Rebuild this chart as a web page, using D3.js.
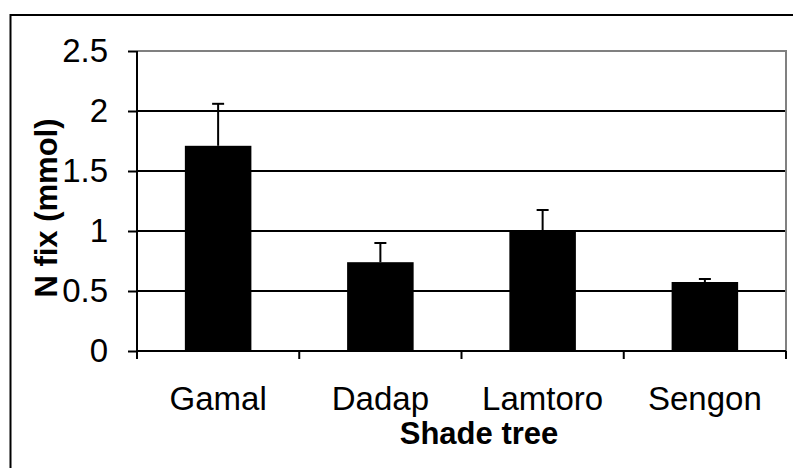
<!DOCTYPE html>
<html>
<head>
<meta charset="utf-8">
<script src="https://cdn.jsdelivr.net/npm/d3@7"></script>
<style>
  body { margin: 0; background: #fff; }
  text { font-family: Arial, "Liberation Sans", sans-serif; }
</style>
</head>
<body>
<script>
// data
var categories = ["Gamal", "Dadap", "Lamtoro", "Sengon"];
var values = [1.71, 0.74, 1.0, 0.575];
var errors = [0.35, 0.16, 0.175, 0.025];
var yTicks = [0, 0.5, 1, 1.5, 2, 2.5];

// set up svg
var w = 793;
var h = 468;
var plot = { left: 137, right: 786, top: 51, bottom: 351 };

var svg = d3.select("body")
            .append("svg")
            .attr("width", w)
            .attr("height", h);

svg.append("rect")
    .attr("x", 0).attr("y", 0)
    .attr("width", w).attr("height", h)
    .attr("fill", "#fff");

// outer chart border (runs off right and bottom)
svg.append("rect")
    .attr("x", 10.5).attr("y", 15)
    .attr("width", 820).attr("height", 500)
    .attr("fill", "none")
    .attr("stroke", "#000")
    .attr("stroke-width", 2);

var xScale = d3.scaleBand()
    .domain(categories)
    .range([plot.left, plot.right])
    .paddingInner(0.59)
    .paddingOuter(0.295);

var yScale = d3.scaleLinear()
    .domain([0, 2.5])
    .range([plot.bottom, plot.top]);

// gridlines
svg.append("g")
    .selectAll("line")
    .data(yTicks.filter((d) => d > 0 && d < 2.5))
    .enter()
    .append("line")
    .attr("x1", plot.left)
    .attr("x2", plot.right)
    .attr("y1", (d) => yScale(d))
    .attr("y2", (d) => yScale(d))
    .attr("stroke", "#000")
    .attr("stroke-width", 2);

// plot area border top and right (gray)
svg.append("path")
    .attr("d", "M" + plot.left + "," + yScale(2.5) + "H" + plot.right + "V" + plot.bottom)
    .attr("fill", "none")
    .attr("stroke", "#808080")
    .attr("stroke-width", 2);

// bars
var data = categories.map((c, i) => ({ name: c, value: values[i], err: errors[i] }));

svg.append("g")
    .selectAll("rect")
    .data(data)
    .enter()
    .append("rect")
    .attr("x", (d) => xScale(d.name))
    .attr("y", (d) => yScale(d.value))
    .attr("width", xScale.bandwidth())
    .attr("height", (d) => yScale(0) - yScale(d.value))
    .attr("fill", "#000");

// error bars
var eb = svg.append("g").attr("stroke", "#000").attr("stroke-width", 2);
data.forEach(function(d) {
    var cx = xScale(d.name) + xScale.bandwidth() / 2;
    eb.append("line")
        .attr("x1", cx).attr("x2", cx)
        .attr("y1", yScale(d.value)).attr("y2", yScale(d.value + d.err));
    eb.append("line")
        .attr("x1", cx - 6).attr("x2", cx + 6)
        .attr("y1", yScale(d.value + d.err)).attr("y2", yScale(d.value + d.err));
});

// y axis
var yAxis = d3.axisLeft(yScale)
    .tickValues(yTicks)
    .tickFormat(d3.format("~g"))
    .tickSize(9)
    .tickPadding(20);

var gy = svg.append("g")
    .attr("transform", "translate(" + plot.left + ",0)")
    .call(yAxis);
gy.select(".domain").attr("stroke-width", 2).attr("d", "M0," + plot.top + "V" + (plot.bottom + 8));
gy.selectAll(".tick line").attr("stroke-width", 2);
gy.selectAll(".tick text")
    .attr("font-size", 33)
    .attr("font-family", "Arial, 'Liberation Sans', sans-serif")
    .attr("fill", "#000");

// x axis: ticks at category boundaries
var bounds = categories.map((c) => xScale(c) - xScale.step() * xScale.paddingInner() / 2);
bounds.push(plot.right);

svg.append("line")
    .attr("x1", plot.left).attr("x2", plot.right)
    .attr("y1", plot.bottom).attr("y2", plot.bottom)
    .attr("stroke", "#000").attr("stroke-width", 2);

svg.append("g")
    .selectAll("line")
    .data(bounds)
    .enter()
    .append("line")
    .attr("x1", (d) => d).attr("x2", (d) => d)
    .attr("y1", plot.bottom).attr("y2", plot.bottom + 8)
    .attr("stroke", "#000").attr("stroke-width", 2);

svg.append("g")
    .selectAll("text")
    .data(categories)
    .enter()
    .append("text")
    .attr("x", (d) => xScale(d) + xScale.bandwidth() / 2)
    .attr("y", 410)
    .attr("text-anchor", "middle")
    .attr("font-size", 33)
    .text((d) => d);

// axis titles
svg.append("text")
    .attr("x", 479)
    .attr("y", 444)
    .attr("text-anchor", "middle")
    .attr("font-size", 31)
    .attr("font-weight", "bold")
    .text("Shade tree");

svg.append("text")
    .attr("transform", "translate(57,208) rotate(-90)")
    .attr("text-anchor", "middle")
    .attr("font-size", 31)
    .attr("font-weight", "bold")
    .text("N fix (mmol)");
</script>
</body>
</html>
